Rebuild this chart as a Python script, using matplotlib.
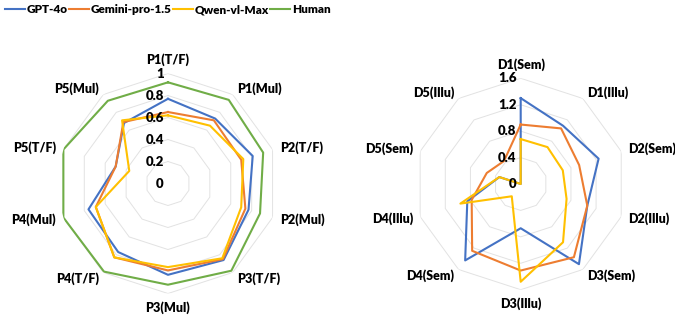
import numpy as np
import matplotlib
matplotlib.use('Agg')
import matplotlib.pyplot as plt

plt.rcParams['font.family'] = ['Lato', 'DejaVu Sans']
plt.rcParams['font.weight'] = 'heavy'

# Left chart: P axes
p_labels = ['P1(T/F)', 'P1(Mul)', 'P2(T/F)', 'P2(Mul)', 'P3(T/F)',
            'P3(Mul)', 'P4(T/F)', 'P4(Mul)', 'P5(T/F)', 'P5(Mul)']
p_gpt = [0.77, 0.73, 0.81, 0.77, 0.86, 0.83, 0.77, 0.76, 0.50, 0.68]
p_gemini = [0.65, 0.71, 0.70, 0.74, 0.85, 0.79, 0.83, 0.69, 0.50, 0.69]
p_qwen = [0.62, 0.65, 0.72, 0.70, 0.84, 0.76, 0.83, 0.69, 0.37, 0.71]
p_human = [0.92, 0.94, 0.91, 0.88, 0.98, 0.92, 0.99, 1.00, 1.00, 0.93]
p_ticks = [0, 0.2, 0.4, 0.6, 0.8, 1]
p_tick_labels = ['0', '0.2', '0.4', '0.6', '0.8', '1']

# Right chart: D axes
d_labels = ['D1(Sem)', 'D1(Illu)', 'D2(Sem)', 'D2(Illu)', 'D3(Sem)',
            'D3(Illu)', 'D4(Sem)', 'D4(Illu)', 'D5(Sem)', 'D5(Illu)']
d_gpt = [1.30, 1.09, 1.24, 1.06, 1.50, 0.67, 1.43, 0.85, 0.34, 0.0]
d_gemini = [0.90, 1.04, 0.93, 1.06, 1.37, 1.31, 1.25, 0.78, 0.54, 0.43]
d_qwen = [0.68, 0.69, 0.67, 0.73, 1.09, 1.48, 0.23, 0.96, 0.34, 0.0]
d_ticks = [0, 0.4, 0.8, 1.2, 1.6]
d_tick_labels = ['0', '0.4', '0.8', '1.2', '1.6']

series_names = ['GPT-4o', 'Gemini-pro-1.5', 'Qwen-vl-Max', 'Human']
colors = ['#4472C4', '#ED7D31', '#FFC000', '#70AD47']


def closed(vals):
    return list(vals) + [vals[0]]


def radar(ax, labels, series, ticks, tick_labels):
    """
    Excel-like radar chart: decagon gridlines, value labels on the top spoke.
    """
    n = len(labels)
    ang = np.linspace(0, 2 * np.pi, n, endpoint=False)
    ang_c = closed(list(ang))
    ax.set_theta_offset(np.pi / 2)
    ax.set_theta_direction(-1)
    ax.set_ylim(0, ticks[-1])
    ax.grid(False)
    ax.spines['polar'].set_visible(False)
    ax.set_xticks([])
    ax.set_yticks([])
    ax.patch.set_alpha(0)
    for lv in ticks[1:]:
        ax.plot(ang_c, [lv] * (n + 1), color='#E2E2E2', lw=0.7, zorder=1)
    for vals, c in series:
        ax.plot(ang_c, closed(vals), color=c, lw=1.5, zorder=3)
    for lv, tl in zip(ticks, tick_labels):
        ax.annotate(tl, xy=(0, lv), xytext=(-3, 0), textcoords='offset points',
                    ha='right', va='center', fontsize=9.5, fontweight='heavy', zorder=4)
    rmax = ticks[-1]
    for a, lab in zip(ang, labels):
        s = np.sin(a)
        c = np.cos(a)
        ha = 'center' if abs(s) < 0.1 else ('left' if s > 0 else 'right')
        va = 'bottom' if c > 0.9 else ('top' if c < -0.9 else 'center')
        ax.text(a, rmax * 1.07, lab, ha=ha, va=va, fontsize=9, fontweight='heavy')


fig = plt.figure(figsize=(6.75, 3.18), dpi=100)

ax1 = fig.add_axes([0.0859, 0.0770, 0.3259, 0.6918], projection='polar')
radar(ax1, p_labels,
      [(p_gpt, colors[0]), (p_gemini, colors[1]), (p_qwen, colors[2]), (p_human, colors[3])],
      p_ticks, p_tick_labels)

ax2 = fig.add_axes([0.6148, 0.0890, 0.3132, 0.6648], projection='polar')
radar(ax2, d_labels,
      [(d_gpt, colors[0]), (d_gemini, colors[1]), (d_qwen, colors[2])],
      d_ticks, d_tick_labels)

handles = [plt.Line2D([], [], color=c, lw=1.5) for c in colors]
fig.legend(handles, series_names, loc='upper left', bbox_to_anchor=(-0.008, 1.02),
           ncol=4, frameon=False, handlelength=1.65, handletextpad=0.15,
           columnspacing=0.15, prop={'size': 8.5, 'weight': 'heavy'})

fig.savefig('out.png', dpi=100)
